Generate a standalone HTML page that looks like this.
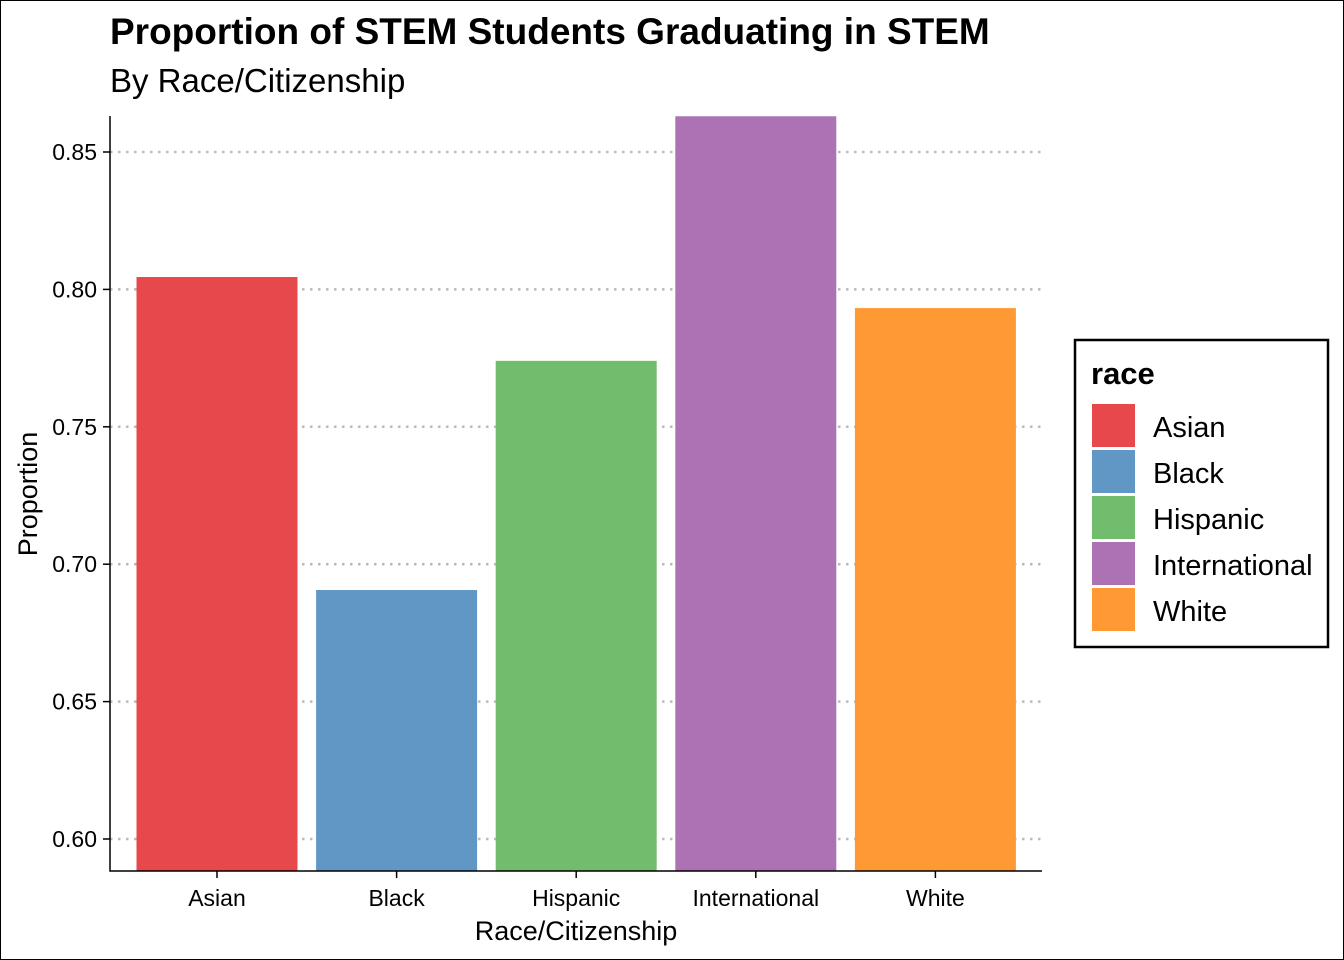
<!DOCTYPE html>
<html><head><meta charset="utf-8"><style>
body{margin:0;background:#fff}
svg{display:block;font-family:"Liberation Sans",Arial,sans-serif}
</style></head><body>
<svg id="chart" width="1344" height="960">
<rect x="0.5" y="0.5" width="1343" height="959" fill="#fff" stroke="#000"/>
<text x="110" y="44" font-size="37" font-weight="bold">Proportion of STEM Students Graduating in STEM</text>
<text x="110" y="92" font-size="33">By Race/Citizenship</text>
<g id="grid"></g><g id="bars"></g><g id="axes"></g>
<text x="576" y="940" font-size="27" text-anchor="middle">Race/Citizenship</text>
<text transform="translate(37,494) rotate(-90)" font-size="27" text-anchor="middle">Proportion</text>
<g id="legend">
<rect x="1075" y="340" width="253" height="307" fill="#fff" stroke="#000" stroke-width="2.5"/>
<text x="1091" y="384" font-size="31" font-weight="bold">race</text>
</g>
</svg>
<script>
const categories=["Asian","Black","Hispanic","International","White"];
const values=[0.8045,0.6906,0.774,0.863,0.7932];
const colors=["#E7484B","#6097C5","#72BC6E","#AC72B4","#FF9933"];
const yTicks=[0.60,0.65,0.70,0.75,0.80,0.85];
const NS="http://www.w3.org/2000/svg";
const y=v=>839-(v-0.60)*2748;
const yBase=871;
const x=i=>217+i*179.6;
const bw=161;
function mk(t,a,p){const e=document.createElementNS(NS,t);for(const k in a)e.setAttribute(k,a[k]);p.appendChild(e);return e;}
const grid=document.getElementById('grid'),bars=document.getElementById('bars'),axes=document.getElementById('axes'),leg=document.getElementById('legend');
yTicks.forEach(v=>{
 const g=mk('line',{x1:110,x2:1042,y1:y(v),y2:y(v),stroke:'#bbb','stroke-width':2.5,'stroke-dasharray':'2.5 5.5'},grid);
 
 
 const t=mk('line',{x1:103,x2:110,y1:y(v),y2:y(v),stroke:'#000','stroke-width':1.5},axes);
 
 
 const l=mk('text',{x:97,y:y(v)+8,'font-size':23,'text-anchor':'end'},axes);
 l.textContent=v.toFixed(2);
 
 
});
categories.forEach((c,i)=>{
 const r=mk('rect',{x:x(i)-bw/2,y:y(values[i]),width:bw,height:yBase-y(values[i]),fill:colors[i]},bars);
 
 
 const t=mk('line',{x1:x(i),x2:x(i),y1:871,y2:878,stroke:'#000','stroke-width':1.5},axes);
 
 
 const l=mk('text',{x:x(i),y:906,'font-size':23,'text-anchor':'middle'},axes);
 l.textContent=c;
 
 
 const s=mk('rect',{x:1092,y:404+i*46,width:43,height:43,fill:colors[i]},leg);
 
 
 const lt=mk('text',{x:1153,y:437+i*46,'font-size':29},leg);
 lt.textContent=c;
 
 
});
const ax=mk('path',{d:'M110 116 V871 H1042',fill:'none',stroke:'#000','stroke-width':1.5},axes);


</script>
</body></html>
